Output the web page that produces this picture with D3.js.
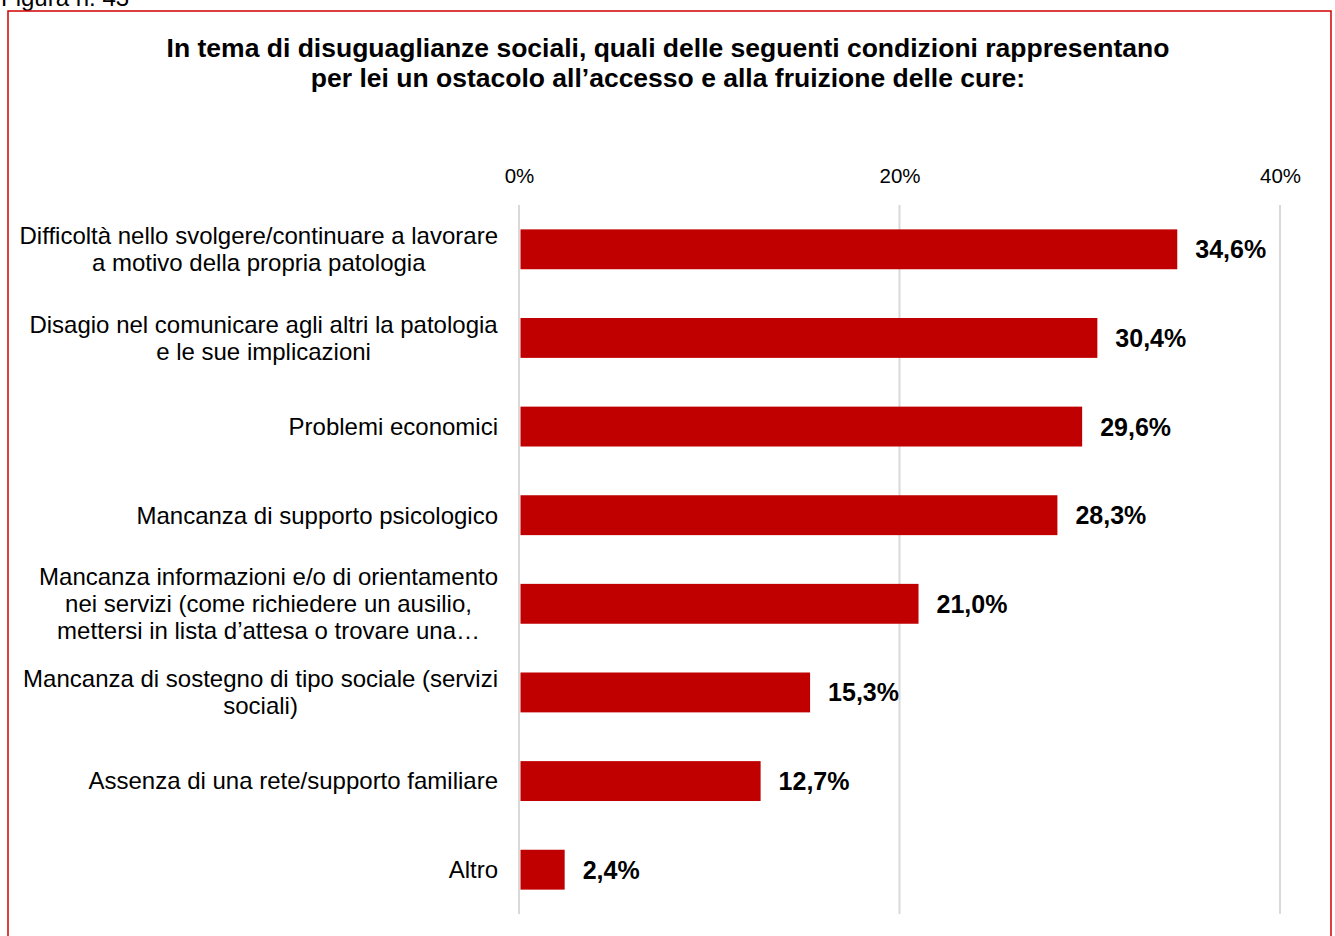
<!DOCTYPE html>
<html><head><meta charset="utf-8">
<script src="https://cdn.jsdelivr.net/npm/d3@7"></script>
<style>body{margin:0;background:#fff;}svg{display:block;font-family:"Liberation Sans",Arial,sans-serif;}</style>
</head><body>
<script>
const categories = [
  ["Difficoltà nello svolgere/continuare a lavorare","a motivo della propria patologia"],
  ["Disagio nel comunicare agli altri la patologia","e le sue implicazioni"],
  ["Problemi economici"],
  ["Mancanza di supporto psicologico"],
  ["Mancanza informazioni e/o di orientamento","nei servizi (come richiedere un ausilio,","mettersi in lista d’attesa o trovare una…"],
  ["Mancanza di sostegno di tipo sociale (servizi","sociali)"],
  ["Assenza di una rete/supporto familiare"],
  ["Altro"]
];
const values = [34.6, 30.4, 29.6, 28.3, 21.0, 15.3, 12.7, 2.4];
const tickValues = [0, 20, 40];
const titleLines = ["In tema di disuguaglianze sociali, quali delle seguenti condizioni rappresentano","per lei un ostacolo all’accesso e alla fruizione delle cure:"];

const W = 1335, H = 936;
const svg = d3.select("body").append("svg").attr("width", W).attr("height", H);

svg.append("text").attr("x", 1).attr("y", 6).attr("font-size", 24).attr("fill", "#000").text("Figura n. 43");
svg.append("rect").attr("x", 8).attr("y", 11).attr("width", 1323).attr("height", 940)
  .attr("fill", "none").attr("stroke", "#d00000").attr("stroke-width", 1.5);

svg.selectAll("text.title").data(titleLines).join("text").attr("class","title")
  .attr("x", 668).attr("y", (d,i)=>56.5 + i*30).attr("text-anchor","middle")
  .attr("font-size", 26.5).attr("font-weight","bold").text(d=>d);

const x = d3.scaleLinear().domain([0, 40]).range([519, 1280]);
const idx = d3.range(values.length);
const y = d3.scaleBand().domain(idx).range([205, 914]).paddingInner(0.55).paddingOuter(0.275);

const grid = svg.append("g");
grid.selectAll("line").data(tickValues).join("line")
  .attr("x1", d=>x(d)).attr("x2", d=>x(d)).attr("y1", 205).attr("y2", 914)
  .attr("stroke", "#d9d9d9").attr("stroke-width", 2);

const axis = d3.axisTop(x).tickValues(tickValues).tickFormat(d=>d+"%").tickSize(0).tickPadding(0);
const ag = svg.append("g").attr("transform", "translate(0,183)").call(axis);
ag.select(".domain").remove();
ag.selectAll("text").attr("font-size", 20.5).attr("fill","#000").attr("font-family","Liberation Sans, Arial, sans-serif");

svg.append("g").selectAll("rect").data(values).join("rect")
  .attr("x", x(0)+1.5).attr("y", (d,i)=>y(i)).attr("height", y.bandwidth())
  .attr("width", d=>x(d)-x(0)-1.5).attr("fill", "#c00000");

svg.append("g").selectAll("text").data(values).join("text")
  .attr("x", d=>x(d)+18).attr("y", (d,i)=>y(i)+y.bandwidth()/2).attr("dy","0.36em")
  .attr("font-size", 25).attr("font-weight","bold")
  .text(d=>d.toFixed(1).replace(".", ",")+"%");

const lg = svg.append("g");
categories.forEach((lines, i) => {
  const cy = y(i) + y.bandwidth()/2;
  const lh = 27;
  const t = lg.append("text").attr("text-anchor","middle").attr("font-size", 24);
  lines.forEach((l, j) => {
    t.append("tspan").attr("x", 0).attr("y", cy + (j - (lines.length-1)/2)*lh).attr("dy","0.35em").text(l);
  });
  const bb = t.node().getBBox();
  t.attr("transform", `translate(${498 - bb.width/2},0)`);
});
</script>
</body></html>
